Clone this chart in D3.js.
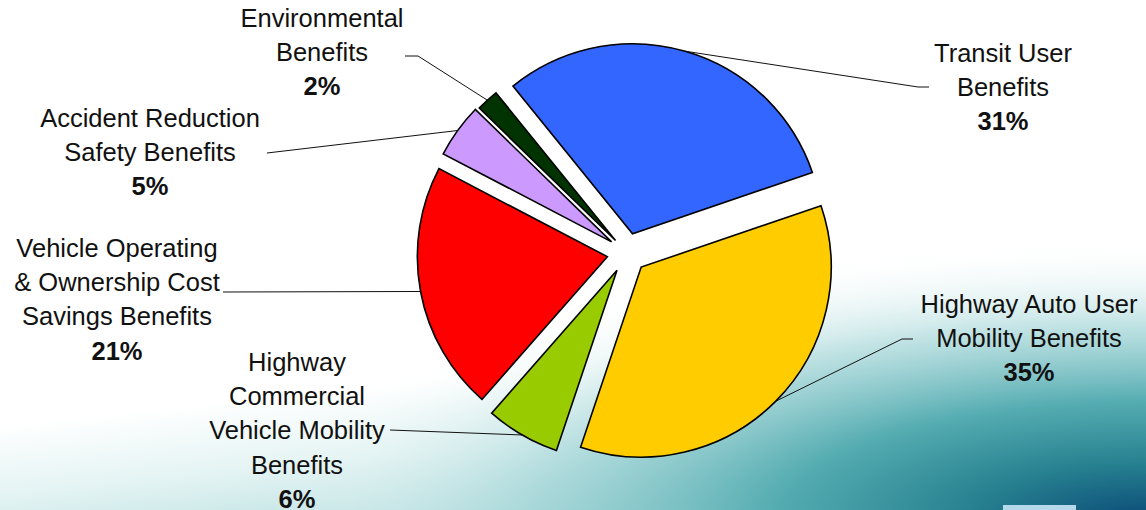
<!DOCTYPE html>
<meta charset="utf-8">
<script src="https://d3js.org/d3.v7.min.js"></script>
<style>
  body { margin: 0; background-color: white; }
  text { font-family: "Liberation Sans", Arial, sans-serif; fill: #111; }
</style>
<div id="chart"></div>
<script>
  // data (share of total benefits)
  var categories = ["Transit User Benefits", "Highway Auto User Mobility Benefits",
                    "Highway Commercial Vehicle Mobility Benefits",
                    "Vehicle Operating & Ownership Cost Savings Benefits",
                    "Accident Reduction Safety Benefits", "Environmental Benefits"];
  var values = [30.6, 35.4, 6.3, 21.2, 4.6, 1.9];
  var labelLines = [
    ["Transit User", "Benefits"],
    ["Highway Auto User", "Mobility Benefits"],
    ["Highway", "Commercial", "Vehicle Mobility", "Benefits"],
    ["Vehicle Operating", "& Ownership Cost", "Savings Benefits"],
    ["Accident Reduction", "Safety Benefits"],
    ["Environmental", "Benefits"]
  ];
  var colors = ["#3366ff", "#ffcc00", "#99cc00", "#ff0000", "#cc99ff", "#003300"];

  // layout
  var width = 1146, height = 510;
  var cx = 627, cy = 253, radius = 190;
  var explode = [20, 20, 20, 20, 19, 17];
  var labelPos = [ [1003, 62], [1029, 313], [297, 371], [117, 257], [150, 127], [322, 27] ];
  var elbows = [
    [[918, 87], [929, 87]],
    [[902, 339], [913, 339]],
    [[390, 430]],
    [[223, 292]],
    [[267, 153]],
    [[418, 56], [405, 56]]
  ];
  var lineH = 34.2;

  var svg = d3.select("#chart").append("svg")
      .attr("width", width)
      .attr("height", height);

  var defs = svg.append("defs");
  var lg = defs.append("linearGradient").attr("id", "fade")
      .attr("gradientUnits", "userSpaceOnUse")
      .attr("x1", 500).attr("y1", 330).attr("x2", 520).attr("y2", 520);
  lg.append("stop").attr("offset", 0.22).attr("stop-color", "#ffffff");
  lg.append("stop").attr("offset", 0.6).attr("stop-color", "#e3f3f3");
  lg.append("stop").attr("offset", 1).attr("stop-color", "#b8dfe0");

  var rg = defs.append("radialGradient").attr("id", "deep")
      .attr("gradientUnits", "userSpaceOnUse")
      .attr("cx", 1146).attr("cy", 520).attr("r", 880)
      .attr("gradientTransform", "translate(1146,520) scale(1,0.32) translate(-1146,-520)");
  rg.append("stop").attr("offset", 0).attr("stop-color", "#0b4a78").attr("stop-opacity", 1);
  rg.append("stop").attr("offset", 0.2).attr("stop-color", "#26808f").attr("stop-opacity", 1);
  rg.append("stop").attr("offset", 0.42).attr("stop-color", "#4ea9ae").attr("stop-opacity", 0.95);
  rg.append("stop").attr("offset", 0.7).attr("stop-color", "#96cfd1").attr("stop-opacity", 0.55);
  rg.append("stop").attr("offset", 1).attr("stop-color", "#ffffff").attr("stop-opacity", 0);

  svg.append("rect").attr("width", width).attr("height", height).attr("fill", "white");
  svg.append("rect").attr("width", width).attr("height", height).attr("fill", "url(#fade)");
  svg.append("rect").attr("width", width).attr("height", height).attr("fill", "url(#deep)");
  svg.append("rect").attr("x", 1003).attr("y", 505).attr("width", 73).attr("height", 5)
      .attr("fill", "#b3d9ea");

  var pie = d3.pie().sort(null)
      .startAngle(-39 * Math.PI / 180)
      .endAngle(321 * Math.PI / 180);
  var arcs = pie(values);
  var arc = d3.arc().innerRadius(0).outerRadius(radius);

  function offset(d, i) {
    var mid = (d.startAngle + d.endAngle) / 2;
    return [cx + explode[i] * Math.sin(mid), cy - explode[i] * Math.cos(mid)];
  }

  // leader lines
  var line = d3.line();
  arcs.forEach(function(d, i) {
    var o = offset(d, i);
    var mid = (d.startAngle + d.endAngle) / 2;
    var p = [o[0] + radius * Math.sin(mid), o[1] - radius * Math.cos(mid)];
    svg.append("path")
      .attr("d", line([p].concat(elbows[i])))
      .attr("fill", "none")
      .attr("stroke", "#111")
      .attr("stroke-width", 1);
  });

  svg.append("g").selectAll("path")
    .data(arcs)
    .enter()
    .append("path")
      .attr("transform", function(d, i) { return "translate(" + offset(d, i) + ")"; })
      .attr("d", arc)
      .attr("fill", function(d, i) { return colors[i]; })
      .attr("stroke", "#000")
      .attr("stroke-width", 1.6)
      .attr("stroke-linejoin", "miter");

  // labels
  arcs.forEach(function(d, i) {
    var t = svg.append("text")
      .attr("text-anchor", "middle")
      .style("font-size", "25.5px");
    var lines = labelLines[i];
    lines.forEach(function(s, k) {
      t.append("tspan").attr("x", labelPos[i][0]).attr("y", labelPos[i][1] + k * lineH).text(s);
    });
    t.append("tspan")
      .attr("x", labelPos[i][0])
      .attr("y", labelPos[i][1] + lines.length * lineH)
      .style("font-weight", "bold")
      .text(Math.round(values[i]) + "%");
  });
</script>
